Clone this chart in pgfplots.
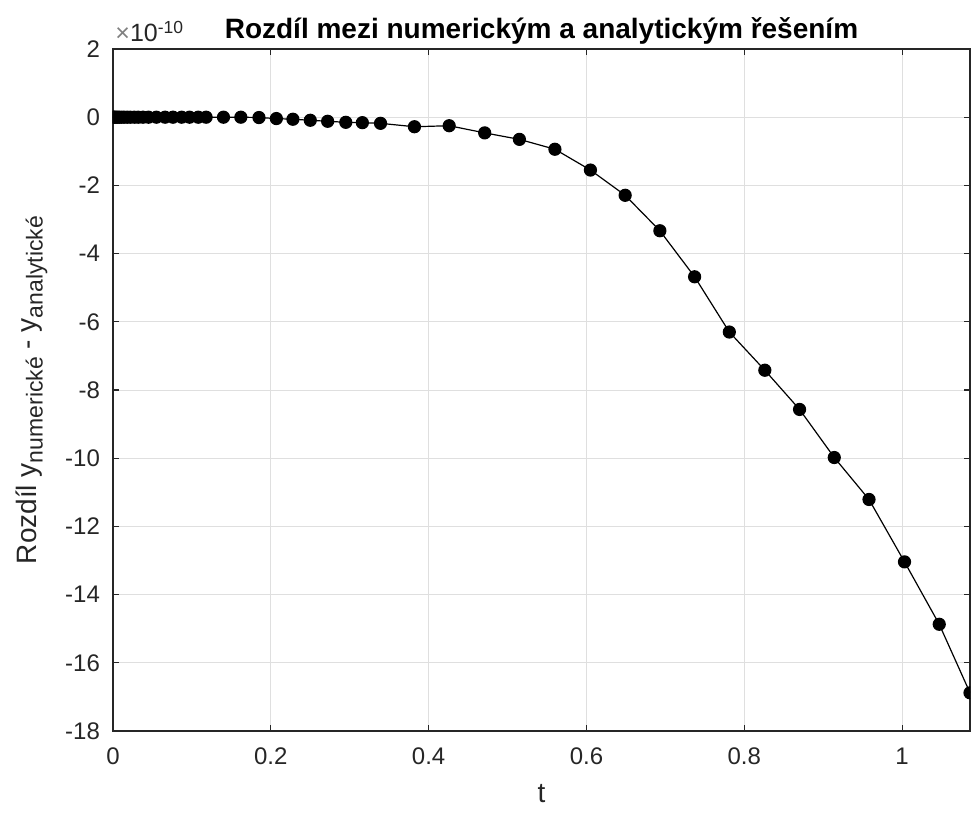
\documentclass[border=0pt]{standalone}
\usepackage{fontspec}
\setmainfont{Liberation Sans}
\usepackage{pgfplots}
\pgfplotsset{compat=1.18}
\definecolor{axgray}{RGB}{38,38,38}
\definecolor{gridgray}{RGB}{223,223,223}
\newcommand{\sub}[1]{\raisebox{-0.45ex}{\fontsize{11.5}{12}\selectfont #1}}
\begin{document}
\begin{tikzpicture}
\begin{axis}[
  name=ax,
  scale only axis, width=428.5pt, height=341pt,
  xmin=0, xmax=1.086, ymin=-18, ymax=2,
  xtick={0,0.2,0.4,0.6,0.8,1}, ytick={-18,-16,-14,-12,-10,-8,-6,-4,-2,0,2},
  xticklabels={0,0.2,0.4,0.6,0.8,1},
  grid=major, grid style={gridgray, line width=0.5pt},
  axis line style={axgray, line width=0.6pt},
  tick style={axgray, line width=0.6pt},
  tick align=inside, major tick length=3pt,
  ticklabel style={font=\fontsize{12}{14}\selectfont, text=axgray},
  xticklabel style={yshift=-5pt},
  yticklabel style={xshift=-3pt},
  /pgf/number format/assume math mode=true,
  scaled ticks=false,
  title={Rozdíl mezi numerickým a analytickým řešením},
  title style={font=\bfseries\fontsize{14}{16}\selectfont, yshift=-7pt},
  xlabel={t}, ylabel={Rozdíl y\sub{numerické} - y\sub{analytické}},
  label style={font=\fontsize{14}{16}\selectfont, text=axgray},
  xlabel style={yshift=-3pt},
  ylabel style={yshift=2pt},
  clip marker paths=true,
]
\addplot[black, line width=0.6pt, mark=*, mark size=3pt, mark options={fill=black}] coordinates {
(0,0) (0.001,0) (0.002,0) (0.004,0) (0.006,0) (0.008,0) (0.011,0) (0.014,0)
(0.018,0) (0.022,0) (0.027,0) (0.032,0) (0.038,0) (0.045,0) (0.055,0) (0.066,0)
(0.076,0) (0.087,0) (0.097,0) (0.108,0) (0.118,0) (0.140,0) (0.162,0)
(0.185,-0.01) (0.207,-0.04) (0.228,-0.06) (0.250,-0.09) (0.272,-0.12)
(0.295,-0.15) (0.316,-0.16) (0.339,-0.18) (0.382,-0.28) (0.426,-0.25)
(0.471,-0.46) (0.515,-0.65) (0.560,-0.94) (0.605,-1.55) (0.649,-2.29)
(0.693,-3.33) (0.737,-4.68) (0.781,-6.30) (0.826,-7.42) (0.870,-8.57)
(0.914,-9.98) (0.958,-11.21) (1.003,-13.04) (1.047,-14.87) (1.086,-16.88)
};
\end{axis}
\node[anchor=base west, inner sep=0pt, text=axgray, font=\fontsize{12.5}{14}\selectfont] at ([shift={(1pt,3.5pt)}]ax.north west) {{\color{gray}×}10\textsuperscript{-10}};
\pgfresetboundingbox
\path ([shift={(-56.5pt,-41.5pt)}]ax.south west) rectangle ([shift={(1pt,24.5pt)}]ax.north east);
\end{tikzpicture}
\end{document}
